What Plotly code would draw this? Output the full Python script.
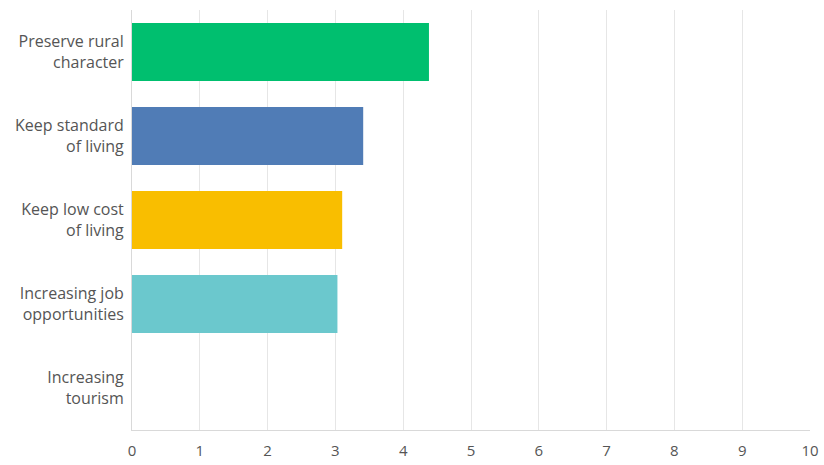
import plotly.graph_objects as go

categories = ["Preserve rural<br>character", "Keep standard<br>of living", "Keep low cost<br>of living",
              "Increasing job<br>opportunities", "Increasing<br>tourism"]
values = [4.38, 3.41, 3.10, 3.03, 0]
colors = ["#00BF6F", "#507CB6", "#F9BE00", "#6BC8CD", "#FF8B4F"]
x_ticks = list(range(0, 11))

fig = go.Figure(go.Bar(
    x=values, y=categories, orientation="h",
    marker=dict(color=colors, line=dict(width=0)),
    hoverinfo="x+y",
))

fig.update_layout(
    width=824, height=465,
    margin=dict(l=132, r=14, t=10, b=35),
    paper_bgcolor="white", plot_bgcolor="white",
    bargap=0.31,
    font=dict(family="'Open Sans', sans-serif", size=16, color="#555555"),
    showlegend=False,
    xaxis=dict(range=[0, 10], tickvals=x_ticks, showgrid=True, gridcolor="#E6E6E6", gridwidth=1,
               zeroline=False, showline=True, linecolor="#D9D9D9", linewidth=1, automargin=False,
               ticks="", ticklabelstandoff=7, tickfont=dict(size=15, color="#555555")),
    yaxis=dict(autorange="reversed", showgrid=False, zeroline=False, automargin=False,
               showline=True, linecolor="#D9D9D9", linewidth=1, ticks="",
               ticklabelstandoff=4, tickfont=dict(size=16, color="#555555")),
)

fig.write_html("out.html")
